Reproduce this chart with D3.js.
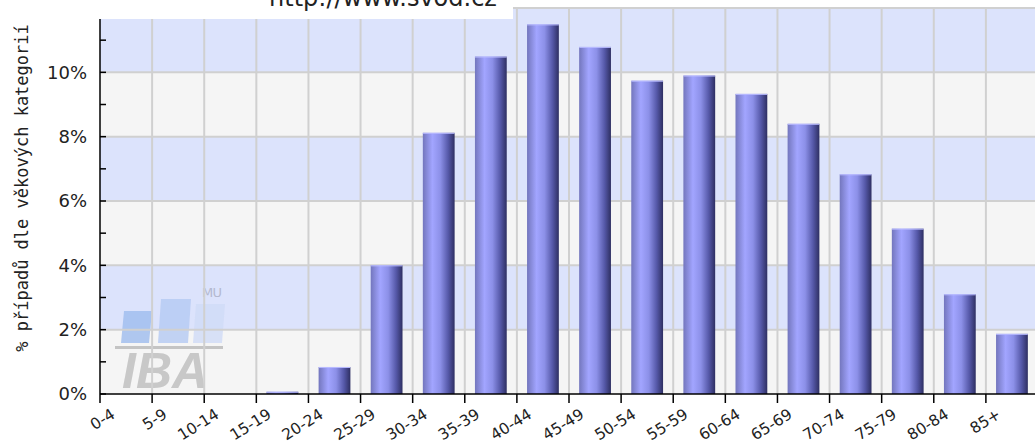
<!DOCTYPE html>
<html>
<head>
<meta charset="utf-8">
<script src="https://cdn.jsdelivr.net/npm/d3@7"></script>
<style>
  body { margin: 0; background: #fff; }
  svg { display: block; }
</style>
</head>
<body>
<svg id="chart" width="1035" height="442"></svg>
<script>
const W = 1035, H = 442;

// data
const categories = ["0-4", "5-9", "10-14", "15-19", "20-24", "25-29", "30-34", "35-39", "40-44",
                    "45-49", "50-54", "55-59", "60-64", "65-69", "70-74", "75-79", "80-84", "85+"];
const values = [0, 0, 0, 0.07, 0.84, 4.0, 8.12, 10.49, 11.49, 10.79, 9.74, 9.9, 9.33, 8.4, 6.83, 5.14, 3.1, 1.87];
const yTicks = [0, 2, 4, 6, 8, 10];
const yMinorTicks = [1, 3, 5, 7, 9, 11];
const yBands = [0, 2, 4, 6, 8, 10];
const title = "http://www.svod.cz";
const yTitle = "% případů dle věkových kategorií";

const pLeft = 100, pTop = 8, pBottom = 394, pRight = 1038;
const pad = 0.39;

const svg = d3.select("#chart");

const x = d3.scaleBand().domain(categories).range([pLeft, pRight])
    .paddingInner(pad).paddingOuter(pad / 2);
const y = d3.scaleLinear().domain([0, 12]).range([pBottom, pTop]);
const step = x.step();
const boundary = d => x(d) - step * pad / 2;

// gradient for the bars
const defs = svg.append("defs");
const grad = defs.append("linearGradient").attr("id", "barGrad")
    .attr("x1", "0%").attr("x2", "100%").attr("y1", "0%").attr("y2", "0%");
[[0, "#7376bd"], [0.3, "#a2a5ff"], [0.55, "#8c90e8"], [0.8, "#5558a8"], [1, "#2e2f62"]]
    .forEach(([o, c]) => grad.append("stop").attr("offset", o).attr("stop-color", c));

// striped background
svg.append("g").selectAll("rect").data(yBands).enter().append("rect")
    .attr("x", pLeft).attr("width", W - pLeft)
    .attr("y", d => y(d + 2)).attr("height", d => y(d) - y(d + 2))
    .attr("fill", (d, i) => i % 2 ? "#dce3fc" : "#f5f5f5");

// IBA MU watermark
const logo = svg.append("g");
logo.selectAll("polygon").data([
    {x0: 124, x1: 152, t: 311, fill: "#9dbbee"},
    {x0: 161, x1: 191, t: 299, fill: "#b4c9f2"},
    {x0: 196, x1: 225, t: 304, fill: "#d0dbf6"}
]).enter().append("polygon")
    .attr("points", d => `${d.x0},${d.t} ${d.x1},${d.t} ${d.x1 - 3},343 ${d.x0 - 3},343`)
    .attr("fill", d => d.fill).attr("opacity", 0.8);
logo.append("rect").attr("x", 115).attr("y", 346).attr("width", 108).attr("height", 3).attr("fill", "#c4c4c4");
logo.append("text").attr("x", 122).attr("y", 388)
    .attr("font-family", "Liberation Sans, Arial, sans-serif").attr("font-weight", "bold")
    .attr("font-style", "italic").attr("font-size", 50).attr("fill", "#c8c8c8").text("IBA");
logo.append("text").attr("x", 202).attr("y", 297)
    .attr("font-family", "DejaVu Sans, sans-serif").attr("font-size", 13)
    .attr("textLength", 20).attr("fill", "#b4b9cf").text("MU");

// grid
const grid = svg.append("g").attr("stroke", "#d0d0d0").attr("stroke-width", 2);
grid.selectAll("line.h").data(yTicks.slice(1)).enter().append("line")
    .attr("x1", pLeft).attr("x2", W).attr("y1", d => y(d)).attr("y2", d => y(d));
grid.selectAll("line.v").data(categories.slice(1)).enter().append("line")
    .attr("x1", boundary).attr("x2", boundary).attr("y1", pTop).attr("y2", pBottom);

// bars
const bars = svg.append("g").selectAll("g").data(categories).enter().append("g");
bars.append("rect")
    .attr("x", d => x(d))
    .attr("y", (d, i) => y(values[i]))
    .attr("width", x.bandwidth())
    .attr("height", (d, i) => pBottom - y(values[i]))
    .attr("fill", "url(#barGrad)");
bars.filter((d, i) => values[i] > 0).append("line")
    .attr("x1", d => x(d))
    .attr("x2", d => x(d) + x.bandwidth())
    .attr("y1", d => y(values[categories.indexOf(d)]) + 0.5)
    .attr("y2", d => y(values[categories.indexOf(d)]) + 0.5)
    .attr("stroke", "#b9bbff").attr("stroke-width", 1);

// y axis
const yAxis = svg.append("g").attr("transform", `translate(${pLeft},0)`);
yAxis.append("line").attr("x1", 0).attr("x2", 0).attr("y1", pTop).attr("y2", pBottom)
    .attr("stroke", "#000").attr("stroke-width", 1.5);
yAxis.selectAll("line.t").data(yTicks.concat(yMinorTicks)).enter().append("line")
    .attr("x1", 0).attr("x2", 6).attr("y1", d => y(d)).attr("y2", d => y(d))
    .attr("stroke", "#000").attr("stroke-width", 1.5);
yAxis.selectAll("text").data(yTicks).enter().append("text")
    .attr("x", -13).attr("y", d => y(d)).attr("dy", "0.36em")
    .attr("text-anchor", "end").attr("font-family", "DejaVu Sans, sans-serif")
    .attr("font-size", 18).attr("fill", "#222").text(d => d + "%");

// x axis
const xAxis = svg.append("g");
xAxis.append("line").attr("x1", pLeft).attr("x2", W).attr("y1", pBottom).attr("y2", pBottom)
    .attr("stroke", "#000").attr("stroke-width", 1.5);
xAxis.selectAll("line.t").data(categories).enter().append("line")
    .attr("x1", boundary).attr("x2", boundary).attr("y1", pBottom).attr("y2", pBottom + 9)
    .attr("stroke", "#000").attr("stroke-width", 1.5);
xAxis.selectAll("text").data(categories).enter().append("text")
    .attr("transform", d => `translate(${boundary(d) + 16},${pBottom + 23}) rotate(-32)`)
    .attr("text-anchor", "end").attr("font-family", "DejaVu Sans, sans-serif")
    .attr("font-size", 15.5).attr("fill", "#222").text(d => d);

// y title
svg.append("text")
    .attr("transform", `translate(28,188) rotate(-90)`)
    .attr("text-anchor", "middle").attr("font-family", "DejaVu Sans Mono, monospace")
    .attr("font-size", 17).attr("fill", "#222").text(yTitle);

// title box
svg.append("line").attr("x1", pLeft).attr("x2", W).attr("y1", pTop).attr("y2", pTop)
    .attr("stroke", "#d0d0d0").attr("stroke-width", 2);
svg.append("rect").attr("x", 0).attr("y", 0).attr("width", 513).attr("height", 19).attr("fill", "#fff");
svg.append("text").attr("x", 383).attr("y", 6).attr("text-anchor", "middle")
    .attr("font-family", "DejaVu Sans, sans-serif").attr("font-size", 24)
    .attr("fill", "#222").text(title);
</script>
</body>
</html>
